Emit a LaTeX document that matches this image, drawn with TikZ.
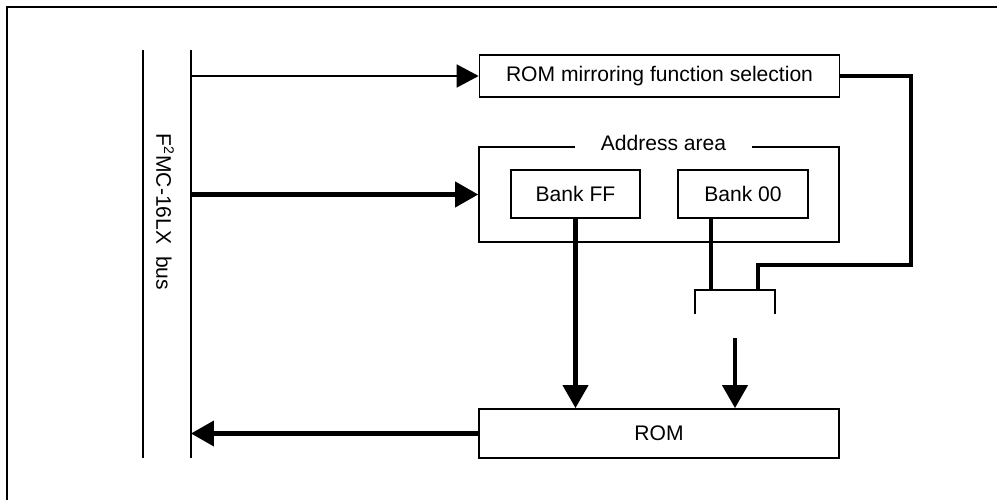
\documentclass[tikz,border=0pt]{standalone}
\usepackage{fontspec}
\setmainfont{Liberation Sans}
\usetikzlibrary{arrows.meta}

\begin{document}
\begin{tikzpicture}[
  x=0.02cm, y=-0.02cm,
  font=\fontsize{12}{14}\selectfont,
  blk/.style={rectangle, draw, line width=1pt, minimum width=7.2cm, minimum height=0.96cm, inner sep=0pt, align=center},
  bank/.style={blk, minimum width=2.6cm},
  wire/.style={line width=1pt},
  heavy/.style={line width=2.3pt},
  arr/.style={-{Triangle[length=0.44cm, width=0.46cm]}, line width=1pt},
  thickarr/.style={-{Triangle[length=0.46cm, width=0.5cm]}, line width=2.3pt}
]
  \useasboundingbox (0,0) rectangle (997,500);
  % frame
  \draw[line width=1.5pt] (7,500) -- (7,7) -- (997,7);
  % bus
  \coordinate (busa) at (143,50);
  \coordinate (busb) at (143,458);
  \coordinate (bus) at (191,50);
  \coordinate (busend) at (191,458);
  \draw[wire] (busa) -- (busb);
  \draw[wire] (bus) -- (busend);
  \node[rotate=-90] (buslabel) at (165,212) {F\textsuperscript{2}MC-16LX\ \ bus};
  % blocks
  \node[blk, minimum height=0.84cm] (mirror) at (659.5,76) {ROM mirroring function selection};
  \node[blk, minimum height=1.9cm] (area) at (659,194.5) {};
  \node[fill=white, inner xsep=0.52cm, inner ysep=1pt] (areatitle) at (663.5,142.5) {Address area};
  \node[bank, minimum width=2.58cm] (bankff) at (575.5,194) {Bank FF};
  \node[bank] (bank00) at (743,194) {Bank 00};
  \node[blk, minimum height=0.98cm] (rom) at (659,433.5) {ROM};
  % switch
  \coordinate (swl) at (695,290);
  \coordinate (swr) at (775,290);
  \coordinate (swin) at (711,290);
  \coordinate (swsel) at (758,290);
  \coordinate (turn) at (911,265);
  \coordinate (swout) at (735,338);
  \draw[wire] ([yshift=-0.48cm]swl) -- (swl) -- (swr) -- ([yshift=-0.48cm]swr);
  % connectors
  \draw[arr] (bus |- mirror.west) -- (mirror.west);
  \draw[thickarr] (bus |- area.west) -- (area.west);
  \draw[thickarr] (rom.west) -- (bus |- rom.west);
  \draw[thickarr] (bankff.south) -- (bankff.south |- rom.north);
  \draw[heavy] (bank00.south -| swin) -- (swin);
  \draw[heavy] (mirror.east) -| (turn) -| (swsel);
  \draw[thickarr] (swout) -- (swout |- rom.north);
\end{tikzpicture}
\end{document}
